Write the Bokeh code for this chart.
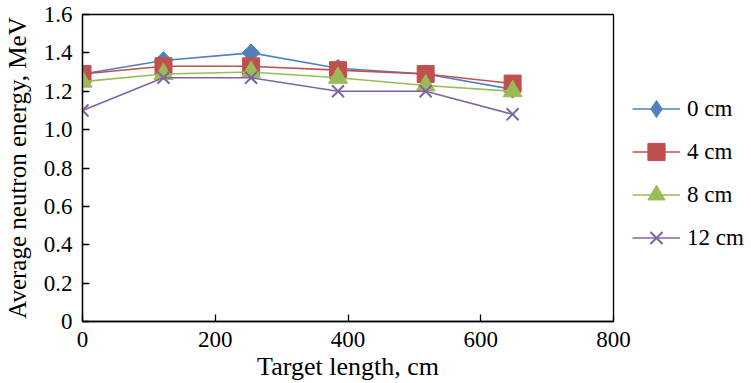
import numpy as np
from bokeh.plotting import figure
from bokeh.models import Legend, LegendItem, FixedTicker, CustomJSTickFormatter, Range1d
from bokeh.embed import file_html
from bokeh.resources import INLINE

target_length = [0, 122, 254, 385, 517, 648]
e_0cm = [1.29, 1.36, 1.40, 1.32, 1.29, 1.21]
e_4cm = [1.29, 1.33, 1.33, 1.31, 1.29, 1.24]
e_8cm = [1.25, 1.29, 1.30, 1.27, 1.23, 1.20]
e_12cm = [1.10, 1.27, 1.27, 1.20, 1.20, 1.08]
series_names = ["0 cm", "4 cm", "8 cm", "12 cm"]
x_ticks = [0, 200, 400, 600, 800]
y_ticks = [0, 0.2, 0.4, 0.6, 0.8, 1.0, 1.2, 1.4, 1.6]

FONT = "Liberation Serif"
TICK_FS = "23px"

p = figure(frame_width=531, frame_height=307, output_backend="svg", toolbar_location=None,
           x_range=Range1d(0, 800), y_range=Range1d(0, 1.6),
           min_border_left=80, min_border_top=14, min_border_bottom=54, min_border_right=135)
p.grid.visible = False
p.outline_line_color = "black"
p.outline_line_width = 1.3
p.outline_line_alpha = 1

for ax in (p.xaxis[0], p.yaxis[0]):
    ax.major_tick_in = 7
    ax.major_tick_out = 0
    ax.minor_tick_line_color = None
    ax.axis_line_width = 1.3
    ax.major_tick_line_width = 1.3
    ax.major_label_text_font = FONT
    ax.major_label_text_font_size = TICK_FS
    ax.major_label_text_color = "black"
    ax.axis_label_text_font = FONT
    ax.axis_label_text_font_style = "normal"
    ax.axis_label_text_color = "black"

p.xaxis.axis_label_text_font_size = "26px"
p.yaxis.axis_label_text_font_size = "25px"
p.xaxis.ticker = FixedTicker(ticks=x_ticks)
p.yaxis.ticker = FixedTicker(ticks=y_ticks)
p.yaxis.formatter = CustomJSTickFormatter(code="return tick == 0 ? '0' : tick.toFixed(1);")
p.xaxis.axis_label = "Target length, cm"
p.yaxis.axis_label = "Average neutron energy, MeV"
p.xaxis.major_label_standoff = 10
p.yaxis.major_label_standoff = 10
p.xaxis.axis_label_standoff = 2
p.yaxis.axis_label_standoff = 10

colors = ["#4F81BD", "#C0504D", "#9BBB59", "#8064A2"]
data = [e_0cm, e_4cm, e_8cm, e_12cm]
items = []
for i, (name, ys, c) in enumerate(zip(series_names, data, colors)):
    ln = p.line(target_length, ys, line_color=c, line_width=1.6)
    if i == 0:
        mk = p.scatter(target_length, ys, marker="square", angle=np.pi / 4, size=12.5,
                       fill_color=c, line_color=c)
        # off-frame copy with a diamond marker, used only for the legend swatch
        lg = p.scatter([-1000], [-1000], marker="diamond", size=19, fill_color=c, line_color=c)
        items.append(LegendItem(label=name, renderers=[ln, lg]))
        continue
    elif i == 1:
        mk = p.scatter(target_length, ys, marker="square", size=17, fill_color=c, line_color=c)
    elif i == 2:
        mk = p.scatter(target_length, ys, marker="triangle", size=19, fill_color=c, line_color=c)
    else:
        mk = p.scatter(target_length, ys, marker="x", size=17, line_color=c, line_width=2)
    items.append(LegendItem(label=name, renderers=[ln, mk]))

legend = Legend(items=items, location=(19, 62), border_line_color=None,
                background_fill_alpha=0, label_text_font=FONT, label_text_font_size=TICK_FS,
                label_text_color="black", glyph_width=48, glyph_height=43, label_height=20,
                spacing=0, padding=0, margin=0, label_standoff=7)
p.add_layout(legend, "right")

open("out.html", "w").write(file_html(p, INLINE))
